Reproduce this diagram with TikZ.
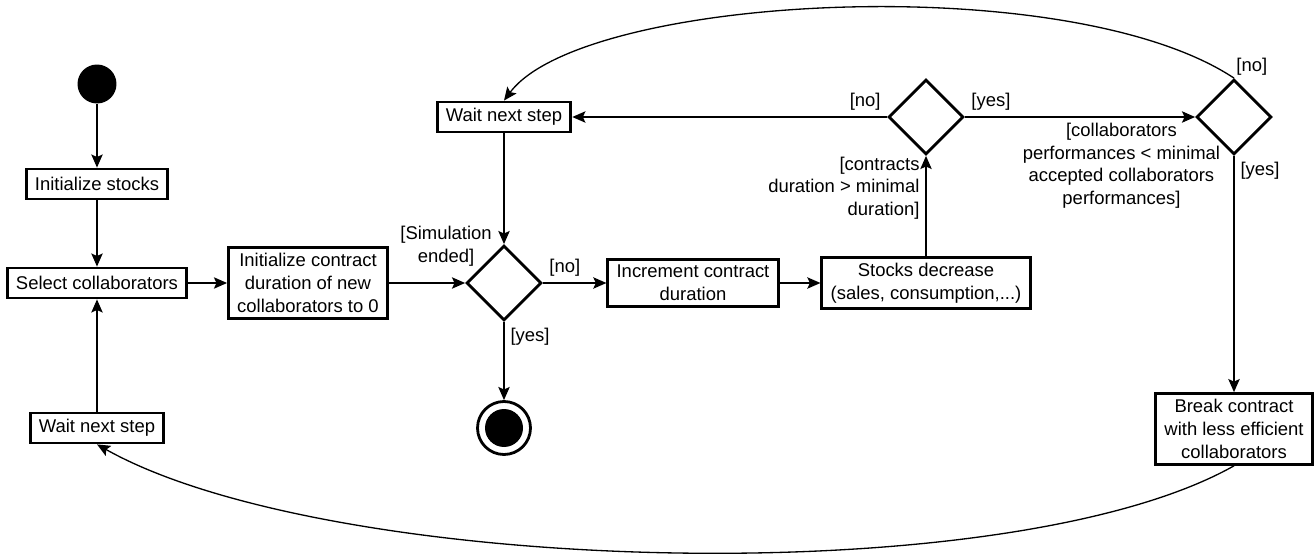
\documentclass[tikz,border=0pt]{standalone}
\usepackage{fontspec}
\setmainfont{Liberation Sans}
\usetikzlibrary{arrows.meta, shapes.geometric}

\begin{document}
\begin{tikzpicture}[
		x=0.02cm, y=-0.02cm,
		box/.style={
			rectangle,
			draw,
			line width=1.6pt,
			minimum height=0.6cm,
			align=center,
			font=\fontsize{10.5}{13}\selectfont,
			inner xsep=5pt,
			inner ysep=3.3pt
		},
		decision/.style={
			diamond,
			draw,
			line width=1.6pt,
			minimum width=1.5cm,
			minimum height=1.5cm,
			inner sep=0pt
		},
		guard/.style={
			font=\fontsize{10.5}{12.8}\selectfont,
			align=center
		},
		arrow/.style={
			-{Stealth[length=7.5pt,width=6.5pt,inset=1.5pt]},
			line width=0.75pt
		}
		]
		
		\useasboundingbox (0,0) rectangle (1315,554);
		
		% left column
		\node[circle, fill, minimum size=0.78cm, inner sep=0pt] (start) at (97,84) {};
		
		\node[box] (initstocks) at (97,184) {Initialize stocks};
		
		\node[box] (select) at (97,283) {Select collaborators};
		
		\node[box] (waitbottom) at (97,428) {Wait next step};
		
		% middle line
		\node[box] (initcontract) at (308,283) {
			Initialize contract\\
			duration of new\\
			collaborators to 0
		};
		
		\node[decision] (simend) at (504,283) {};
		
		\node[guard] (simlabel) at (446,246) {[Simulation\\ended]};
		
		\node[box] (waittop) at (504,117) {Wait next step};
		
		\node[circle, draw, line width=1.6pt, minimum size=1.06cm, inner sep=0pt,
			path picture={\fill (path picture bounding box.center) circle (0.38cm);}] (finish) at (504,428) {};
		
		\node[box] (increment) at (693,283) {
			Increment contract\\
			duration
		};
		
		\node[box] (stocks) at (926,283) {
			Stocks decrease\\
			(sales, consumption,...)
		};
		
		% top line
		\node[decision] (durationcheck) at (926,117) {};
		
		\node[decision] (perfcheck) at (1234,117) {};
		
		\node[box] (breakcontract) at (1234,429) {
			Break contract\\
			with less efficient\\
			collaborators
		};
		%--
		\draw[arrow] (start) -- (initstocks);
		\draw[arrow] (initstocks) -- (select);
		\draw[arrow] (select) -- (initcontract);
		\draw[arrow] (waitbottom) -- (select);
		%--
		\draw[arrow] (initcontract) -- (simend);
		\draw[arrow] (waittop) -- (simend);
		\draw[arrow] (simend) -- node[guard, above right, pos=0] {[no]} (increment);
		\draw[arrow] (simend) -- node[guard, below right, pos=0] {[yes]} (finish);
		\draw[arrow] (increment) -- (stocks);
		%--
		\draw[arrow] (stocks) -- node[guard, left, pos=0.68, align=right] {[contracts\\duration > minimal\\duration]} (durationcheck);
		\draw[arrow] (durationcheck) -- node[guard, above left, pos=0] {[no]} (waittop);
		\draw[arrow] (durationcheck) -- node[guard, above right, pos=0] {[yes]}
			node[guard, below, pos=0.68] {[collaborators\\performances < minimal\\accepted collaborators\\performances]} (perfcheck);
		\draw[arrow] (perfcheck) -- node[guard, below right, pos=0] {[yes]} (breakcontract);
		%--
		\draw[arrow] (perfcheck.north) .. controls +(-166,-110) and +(79,-106) .. node[guard, above right, pos=0, inner sep=1pt] {[no]} (waittop.north);
		\draw[arrow] (breakcontract.south) .. controls +(-227,128) and +(233,131) .. (waitbottom.south);
		
	\end{tikzpicture}
\end{document}
